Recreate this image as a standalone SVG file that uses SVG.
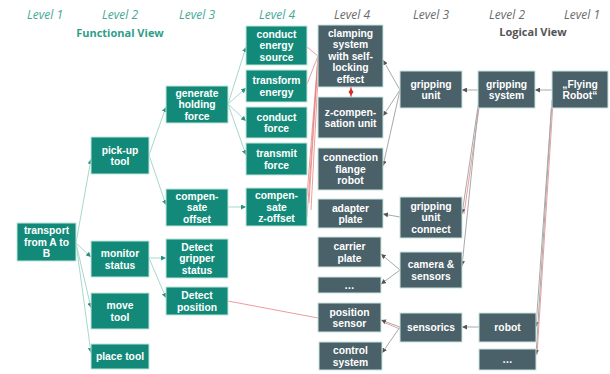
<svg xmlns="http://www.w3.org/2000/svg" width="610" height="374" viewBox="0 0 610 374">
<style>
.f rect{fill:#138a79;stroke:#bfe6dc;stroke-width:1}
.l rect{fill:#4a6169;stroke:#c9e6df;stroke-width:1}
.f text,.l text{font-family:"Liberation Sans",Arial,sans-serif;font-weight:700;font-size:10.3px;fill:#ffffff;text-anchor:middle}
.hf{font-family:"Open Sans","Liberation Sans",sans-serif;font-style:italic;font-size:12px;fill:#45a896;text-anchor:middle}
.hl{font-family:"Open Sans","Liberation Sans",sans-serif;font-style:italic;font-size:12px;fill:#6b6b6b;text-anchor:middle}
.vf{font-family:"Open Sans","Liberation Sans",sans-serif;font-weight:700;font-size:11px;fill:#2e9e88;text-anchor:middle}
.vl{font-family:"Open Sans","Liberation Sans",sans-serif;font-weight:700;font-size:11px;fill:#555555;text-anchor:middle}
.cg{stroke:#a6d8cb;stroke-width:1;fill:none;marker-end:url(#ag)}
.cl{stroke:#a9a9a9;stroke-width:1;fill:none;marker-end:url(#al)}
.cr{stroke:#e57b7b;stroke-width:1;fill:none;opacity:0.75}
</style>
<defs>
<marker id="ag" viewBox="0 0 6 6" refX="6" refY="3" markerWidth="5" markerHeight="5" markerUnits="userSpaceOnUse" orient="auto"><path d="M0,0 L6,3 L0,6 z" fill="#2f8f7d"/></marker>
<marker id="al" viewBox="0 0 6 6" refX="6" refY="3" markerWidth="5" markerHeight="5" markerUnits="userSpaceOnUse" orient="auto"><path d="M0,0 L6,3 L0,6 z" fill="#555555"/></marker>
</defs>
<rect width="610" height="374" fill="#ffffff"/>
<g id="headers">
<text class="hf" x="45" y="19">Level 1</text>
<text class="hf" x="120" y="19">Level 2</text>
<text class="hf" x="197" y="19">Level 3</text>
<text class="hf" x="277" y="19">Level 4</text>
<text class="vf" x="120" y="37">Functional View</text>
<text class="hl" x="352" y="19">Level 4</text>
<text class="hl" x="431" y="19">Level 3</text>
<text class="hl" x="507" y="19">Level 2</text>
<text class="hl" x="582" y="19">Level 1</text>
<text class="vl" x="533" y="36">Logical View</text>
</g>
<g id="connectors">
<path class="cg" d="M76,243 L91,159"/>
<path class="cg" d="M76,243 L91,257"/>
<path class="cg" d="M76,243 L91,308"/>
<path class="cg" d="M76,243 L91,353"/>
<path class="cg" d="M149,155 L166,107"/>
<path class="cg" d="M149,155 L166,205"/>
<path class="cg" d="M149,258 L166,258"/>
<path class="cg" d="M149,258 L166,298"/>
<path class="cg" d="M228,104 L246,47"/>
<path class="cg" d="M228,104 L246,88"/>
<path class="cg" d="M228,104 L246,121"/>
<path class="cg" d="M228,104 L246,155"/>
<path class="cg" d="M228,207 L246,207"/>
<path class="cr" d="M307,47 L318,56"/>
<path class="cr" d="M307,84 L318,56"/>
<path class="cr" d="M307,196 L318,56"/>
<path class="cr" d="M309,203 L318,57"/>
<path class="cr" d="M311,210 L319,58"/>
<path class="cr" d="M307,217 L318,59"/>
<path class="cr" d="M228,301 L318,318"/>
<path class="cr" d="M480,101 L464,214"/>
<path class="cr" d="M553,102 L537,355"/>
<path class="cr" d="M400,329 L383,322"/>
<path d="M351,87 L351,97" stroke="#d92b2b" stroke-width="1.2"/>
<path d="M351,88.5 L353.5,92 L351,95.5 L348.5,92 z" fill="#d92b2b"/>
<path class="cl" d="M552,90 L535,90"/>
<path class="cl" d="M478,90 L462,90"/>
<path class="cl" d="M479,100 L462,214"/>
<path class="cl" d="M479,100 L462,266"/>
<path class="cl" d="M552,100 L536,327"/>
<path class="cl" d="M552,100 L536,355"/>
<path class="cl" d="M400,90 L383,60"/>
<path class="cl" d="M400,90 L383,116"/>
<path class="cl" d="M400,90 L383,166"/>
<path class="cl" d="M400,217 L383,214"/>
<path class="cl" d="M400,270 L381,254"/>
<path class="cl" d="M400,270 L381,284"/>
<path class="cl" d="M479,327 L462,327"/>
<path class="cl" d="M400,327 L381,320"/>
<path class="cl" d="M400,327 L382,353"/>
</g>
<g id="f-transport" class="f"><rect x="17" y="223" width="59" height="38"/><text x="46.5" y="234.3">transport</text><text x="46.5" y="245.8">from A to</text><text x="46.5" y="257.3">B</text></g>
<g id="f-pickup" class="f"><rect x="91" y="137" width="58" height="37"/><text x="120" y="153.5">pick-up</text><text x="120" y="165">tool</text></g>
<g id="f-monitor" class="f"><rect x="91" y="241" width="58" height="36"/><text x="120" y="257">monitor</text><text x="120" y="268.5">status</text></g>
<g id="f-move" class="f"><rect x="91" y="293" width="58" height="36"/><text x="120" y="309">move</text><text x="120" y="320.5">tool</text></g>
<g id="f-place" class="f"><rect x="91" y="344" width="58" height="25"/><text x="120" y="360.3">place tool</text></g>
<g id="f-generate" class="f"><rect x="166" y="86" width="62" height="37"/><text x="197" y="96.8">generate</text><text x="197" y="108.3">holding</text><text x="197" y="119.8">force</text></g>
<g id="f-compoffset" class="f"><rect x="166" y="189" width="62" height="37"/><text x="197" y="199.8">compen-</text><text x="197" y="211.3">sate</text><text x="197" y="222.8">offset</text></g>
<g id="f-detectgripper" class="f"><rect x="166" y="239" width="62" height="39"/><text x="197" y="250.8">Detect</text><text x="197" y="262.3">gripper</text><text x="197" y="273.8">status</text></g>
<g id="f-detectpos" class="f"><rect x="166" y="287" width="62" height="28"/><text x="197" y="299">Detect</text><text x="197" y="310.5">position</text></g>
<g id="f-conductenergy" class="f"><rect x="246" y="26" width="61" height="39"/><text x="276.5" y="37.8">conduct</text><text x="276.5" y="49.3">energy</text><text x="276.5" y="60.8">source</text></g>
<g id="f-transform" class="f"><rect x="246" y="70" width="61" height="32"/><text x="276.5" y="84">transform</text><text x="276.5" y="95.5">energy</text></g>
<g id="f-conductforce" class="f"><rect x="246" y="107" width="61" height="31"/><text x="276.5" y="120.5">conduct</text><text x="276.5" y="132">force</text></g>
<g id="f-transmit" class="f"><rect x="246" y="143" width="61" height="32"/><text x="276.5" y="157">transmit</text><text x="276.5" y="168.5">force</text></g>
<g id="f-compz" class="f"><rect x="246" y="188" width="61" height="38"/><text x="276.5" y="199.3">compen-</text><text x="276.5" y="210.8">sate</text><text x="276.5" y="222.3">z-offset</text></g>
<g id="l-clamping" class="l"><rect x="318" y="25" width="65" height="62"/><text x="350.5" y="36.8">clamping</text><text x="350.5" y="48.3">system</text><text x="350.5" y="59.8">with self-</text><text x="350.5" y="71.3">locking</text><text x="350.5" y="82.8">effect</text></g>
<g id="l-zcomp" class="l"><rect x="318" y="97" width="65" height="41"/><text x="350.5" y="115.5">z-compen-</text><text x="350.5" y="127">sation unit</text></g>
<g id="l-flange" class="l"><rect x="318" y="148" width="65" height="42"/><text x="350.5" y="161.3">connection</text><text x="350.5" y="172.8">flange</text><text x="350.5" y="184.3">robot</text></g>
<g id="l-adapter" class="l"><rect x="318" y="199" width="65" height="29"/><text x="350.5" y="211.5">adapter</text><text x="350.5" y="223">plate</text></g>
<g id="l-carrier" class="l"><rect x="318" y="237" width="63" height="30"/><text x="349.5" y="250">carrier</text><text x="349.5" y="261.5">plate</text></g>
<g id="l-dots4" class="l"><rect x="318" y="277" width="63" height="16"/><text x="349.5" y="288.8">…</text></g>
<g id="l-possensor" class="l"><rect x="318" y="303" width="63" height="29"/><text x="349.5" y="315.5">position</text><text x="349.5" y="327">sensor</text></g>
<g id="l-control" class="l"><rect x="319" y="342" width="63" height="28"/><text x="350.5" y="354">control</text><text x="350.5" y="365.5">system</text></g>
<g id="l-grippingunit" class="l"><rect x="400" y="71" width="62" height="37"/><text x="431" y="87.5">gripping</text><text x="431" y="99">unit</text></g>
<g id="l-unitconnect" class="l"><rect x="400" y="197" width="62" height="41"/><text x="431" y="209.8">gripping</text><text x="431" y="221.3">unit</text><text x="431" y="232.8">connect</text></g>
<g id="l-camera" class="l"><rect x="400" y="252" width="62" height="36"/><text x="431" y="268">camera &amp;</text><text x="431" y="279.5">sensors</text></g>
<g id="l-sensorics" class="l"><rect x="400" y="313" width="62" height="29"/><text x="431" y="331.3">sensorics</text></g>
<g id="l-grippingsystem" class="l"><rect x="478" y="71" width="57" height="37"/><text x="506.5" y="87.5">gripping</text><text x="506.5" y="99">system</text></g>
<g id="l-robot" class="l"><rect x="479" y="313" width="57" height="29"/><text x="507.5" y="331.3">robot</text></g>
<g id="l-dots2" class="l"><rect x="479" y="349" width="57" height="21"/><text x="507.5" y="363.3">…</text></g>
<g id="l-flyingrobot" class="l"><rect x="552" y="71" width="56" height="37"/><text x="580" y="87.5">„Flying</text><text x="580" y="99">Robot“</text></g>
</svg>
